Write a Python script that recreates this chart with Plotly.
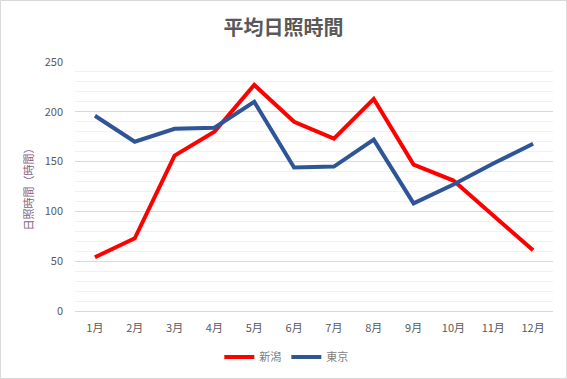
import plotly.graph_objects as go

months = ["1月", "2月", "3月", "4月", "5月", "6月", "7月", "8月", "9月", "10月", "11月", "12月"]
niigata = [54, 73, 156, 180, 227, 190, 173, 213, 147, 131, 96, 61]
tokyo = [196, 170, 183, 184, 210, 144, 145, 172, 108, 127, 148, 168]
y_ticks = [0, 50, 100, 150, 200, 250]

W, H = 567, 379
ml, mr, mt, mb = 75, 14, 62, 68
pw, ph = W - ml - mr, H - mt - mb

font = "Noto Sans CJK JP, Noto Sans, sans-serif"

fig = go.Figure()
fig.add_trace(go.Scatter(x=months, y=niigata, name="新潟", mode="lines",
                         line=dict(color="#FF0000", width=4)))
fig.add_trace(go.Scatter(x=months, y=tokyo, name="東京", mode="lines",
                         line=dict(color="#2F5597", width=4)))

fig.update_layout(
    width=W, height=H,
    margin=dict(l=ml, r=mr, t=mt, b=mb, autoexpand=False),
    paper_bgcolor="white", plot_bgcolor="white",
    font=dict(family=font, color="#595959", size=11),
    title=dict(text="<b>平均日照時間</b>", x=0.5, xanchor="center", y=1 - 28 / H, yanchor="middle",
               font=dict(size=20, color="#595959", family=font)),
    showlegend=True,
    legend=dict(orientation="h", xref="container", x=0.505, xanchor="center", yref="container",
                y=1 - 357 / H, yanchor="middle", font=dict(size=11, color="#7F7F7F"),
                itemwidth=30, tracegroupgap=0),
    xaxis=dict(showgrid=False, ticks="", showline=True, linecolor="#D9D9D9", linewidth=1,
               tickfont=dict(size=11, color="#595959"), range=[-0.5, 11.5], automargin=False,
               ticklabelstandoff=7),
    yaxis=dict(range=[0, 250], tickvals=y_ticks, showgrid=True, gridcolor="#D9D9D9", gridwidth=1,
               zeroline=False, ticks="", tickfont=dict(size=11, color="#595959"), automargin=False,
               ticklabelstandoff=11,
               minor=dict(dtick=10, showgrid=True, gridcolor="#F2F2F2", gridwidth=1),
               title=dict(text="日照時間（時間）", font=dict(size=11, color="#7F6084"), standoff=8)),
)

fig.add_shape(type="rect", xref="paper", yref="paper",
              x0=-(ml - 0.5) / pw, x1=1 + (mr - 0.5) / pw,
              y0=-(mb - 0.5) / ph, y1=1 + (mt - 0.5) / ph,
              line=dict(color="#D9D9D9", width=1), layer="below")

fig.write_html("out.html", config={"displayModeBar": False},
               post_script="document.body.style.margin='0';")
